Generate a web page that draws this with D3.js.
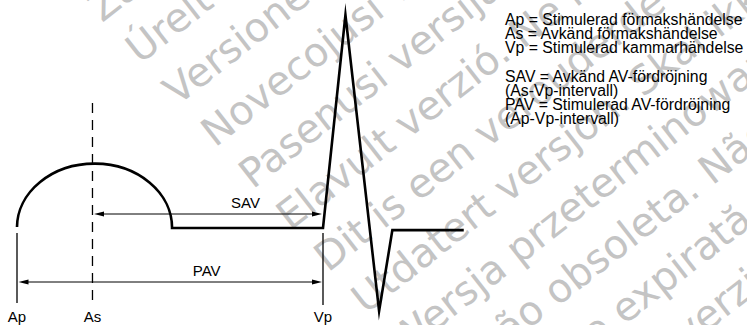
<!DOCTYPE html>
<html><head><meta charset="utf-8">
<script src="https://cdn.jsdelivr.net/npm/d3@7"></script>
<style>html,body{margin:0;padding:0;background:#fff;} svg{display:block;}</style>
</head><body>
<svg id="c" width="747" height="325"></svg>
<script>
// ---- data ----
const markerNames = ["Ap", "As", "Vp"];
const markerTimes = [0, 37, 150];           // ms (Ap = 0)
const pWaveStart = 0, pWaveEnd = 76, pWaveAmp = 0.30;
const qrsTimes = [150, 161, 177.5, 184, 219];
const qrsAmps  = [0, 1.0, -0.39, -0.01, -0.01];
const intervalNames = ["SAV", "PAV"];
const intervalFrom = [37, 0];
const intervalTo = [150, 150];
const intervalLabelTimes = [112, 93];
const legendLines = [
  "Ap = Stimulerad förmakshändelse",
  "As = Avkänd förmakshändelse",
  "Vp = Stimulerad kammarhändelse",
  "",
  "SAV = Avkänd AV-fördröjning",
  "(As-Vp-intervall)",
  "PAV = Stimulerad AV-fördröjning",
  "(Ap-Vp-intervall)"
];
const watermarkLines = [
  "Version obsolète. Ne pas utiliser.",
  "Zastarjela verzija. Nemojte upotrebljavati.",
  "Úrelt útgáfa. Notið ekki.",
  "Versione obsoleta. Non utilizzare.",
  "Novecojusi versija. Neizmantot.",
  "Pasenusi versija. Nenaudokite.",
  "Elavult verzió. Ne használja!",
  "Dit is een verouderde versie. Niet gebruiken.",
  "Utdatert versjon. Skal ikke brukes.",
  "Wersja przeterminowana. Nie używać.",
  "Versão obsoleta. Não utilize.",
  "Versiune expirată. A nu se utiliza.",
  "Zastaraná verzia. Nepoužívať.",
  "Zastarela različica. Ne uporabite.",
  "Vanhentunut versio. Älä käytä."
];

// ---- drawing ----
const svg = d3.select("#c");
const x = d3.scaleLinear().domain([0, 150]).range([17, 323]);
const y = d3.scaleLinear().domain([0, 1]).range([228, 15]);
const font = "'Liberation Sans', Arial, sans-serif";

// watermark
const wm = svg.append("g")
  .attr("transform", "translate(215,148) rotate(-38)")
  .attr("font-family", "'DejaVu Sans', sans-serif")
  .attr("font-size", 40)
  .attr("fill", "#c4c4c4");
wm.selectAll("text").data(watermarkLines).join("text")
  .attr("x", (d, i) => (i - 4) * 4)
  .attr("y", (d, i) => (i - 4) * 56)
  .text(d => d);

// waveform
const x0 = x(pWaveStart), x1 = x(pWaveEnd);
const rx = (x1 - x0) / 2, ry = y(0) - y(pWaveAmp);
let d = `M${x0},${y(0) - 1} A${rx},${ry} 0 0 1 ${x1},${y(0)}`;
qrsTimes.forEach((t, i) => { d += ` L${x(t)},${y(qrsAmps[i])}`; });
svg.append("path").attr("d", d).attr("fill", "none")
  .attr("stroke", "#000").attr("stroke-width", 2.6)
  .attr("stroke-linejoin", "miter").attr("stroke-miterlimit", 10);

// marker lines
const markerTop = [233, 103, 233];
const markerBottom = [303, 305, 305];
svg.selectAll("line.mk").data(markerNames).join("line")
  .attr("class", "mk")
  .attr("x1", (n, i) => x(markerTimes[i])).attr("x2", (n, i) => x(markerTimes[i]))
  .attr("y1", (n, i) => markerTop[i]).attr("y2", (n, i) => markerBottom[i])
  .attr("stroke", "#000").attr("stroke-width", 1.3)
  .attr("stroke-dasharray", n => n === "As" ? "10,7" : null);

svg.selectAll("text.mk").data(markerNames).join("text")
  .attr("class", "mk")
  .attr("x", (n, i) => x(markerTimes[i]))
  .attr("y", 322)
  .attr("text-anchor", "middle")
  .attr("font-family", font).attr("font-size", 15).attr("fill", "#000")
  .text(n => n);

// interval arrows
const arrowY = [214, 282];
const labelY = [208, 276];
intervalNames.forEach((name, i) => {
  const xa = x(intervalFrom[i]) + 1.5, xb = x(intervalTo[i]) - 1;
  const yy = arrowY[i];
  svg.append("line").attr("x1", xa + 6).attr("x2", xb - 6)
    .attr("y1", yy).attr("y2", yy).attr("stroke", "#000").attr("stroke-width", 1);
  svg.append("path").attr("d", `M${xa},${yy} L${xa + 10},${yy - 2.6} L${xa + 10},${yy + 2.6} Z`).attr("fill", "#000");
  svg.append("path").attr("d", `M${xb},${yy} L${xb - 10},${yy - 2.6} L${xb - 10},${yy + 2.6} Z`).attr("fill", "#000");
  svg.append("text").attr("x", x(intervalLabelTimes[i])).attr("y", labelY[i])
    .attr("text-anchor", "middle")
    .attr("font-family", font).attr("font-size", 15).attr("fill", "#000")
    .text(name);
});

// legend
svg.append("g").selectAll("text").data(legendLines).join("text")
  .attr("x", 505)
  .attr("y", (t, i) => 25 + i * 14.2)
  .attr("font-family", font).attr("font-size", 15.8).attr("fill", "#000")
  .text(t => t);
</script>
</body></html>
